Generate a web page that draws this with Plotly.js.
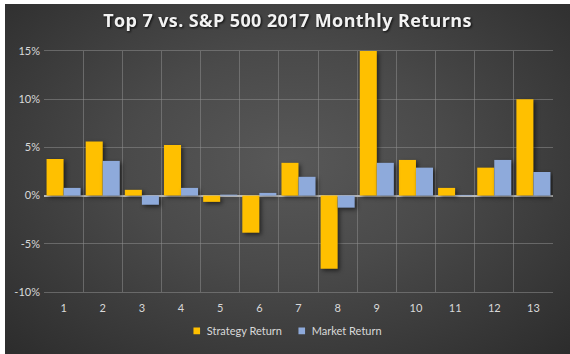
<!DOCTYPE html>
<html>
<head>
<meta charset="utf-8">
<script src="https://cdn.plot.ly/plotly-3.0.1.min.js"></script>
<style>
  html, body { margin: 0; padding: 0; background: #ffffff; width: 570px; height: 354px; overflow: hidden; }
  #frame {
    position: absolute; left: 5px; top: 4px; width: 565px; height: 350px;
    background: radial-gradient(ellipse at 50% 45%, #585858 0%, #4a4a4a 40%, #2c2c2c 100%);
  }
  #chart { position: absolute; left: 0; top: 0; width: 565px; height: 350px; }
  #chart .barlayer .point path { filter: drop-shadow(2px 2px 2px rgba(0,0,0,0.55)); }
  #chart .gtitle { filter: drop-shadow(1px 1px 1px rgba(0,0,0,0.8)); letter-spacing: 0.4px; }
  #chart .legend .legendpoints path { transform: translate(20px, 0px) scale(0.55); }
  #chart .legend .legendtext { transform: translateX(-10px); }
</style>
</head>
<body>
<div id="frame"><div id="chart"></div></div>
<script>
const months = ["1","2","3","4","5","6","7","8","9","10","11","12","13"];
const strategyReturn = [3.8, 5.6, 0.6, 5.25, -0.65, -3.85, 3.4, -7.6, 15.0, 3.7, 0.8, 2.9, 10.0];
const marketReturn = [0.8, 3.6, -0.95, 0.8, 0.1, 0.28, 1.95, -1.25, 3.4, 2.9, 0.07, 3.7, 2.45];
const yTickVals = [-10, -5, 0, 5, 10, 15];
const yTickText = ["-10%", "-5%", "0%", "5%", "10%", "15%"];

const font = "Lato, 'Open Sans', sans-serif";

const traces = [
  { type: "bar", name: "Strategy Return", x: months, y: strategyReturn,
    marker: { color: "#ffc000" }, hoverinfo: "none" },
  { type: "bar", name: "Market Return", x: months, y: marketReturn,
    marker: { color: "#8eaadb" }, hoverinfo: "none" }
];

const layout = {
  width: 565, height: 350,
  paper_bgcolor: "rgba(0,0,0,0)",
  plot_bgcolor: "rgba(0,0,0,0)",
  margin: { l: 39, r: 17, t: 47, b: 62, autoexpand: false },
  bargap: 0.13, bargroupgap: 0,
  barmode: "group",
  title: { text: "Top 7 vs. S&amp;P 500 2017 Monthly Returns",
    font: { family: "'Open Sans', Lato, sans-serif", size: 18, color: "#f2f2f2", weight: 700 },
    x: 0.5, xanchor: "center", yref: "container", y: 0.952, yanchor: "middle" },
  xaxis: {
    type: "category", tickson: "boundaries", showgrid: true,
    gridcolor: "rgba(140,140,140,0.55)", gridwidth: 1,
    showline: true, linecolor: "rgba(140,140,140,0.55)", mirror: true,
    ticks: "", ticklen: 0, ticklabelstandoff: 6,
    tickfont: { family: font, size: 11, color: "#d9d9d9" },
    fixedrange: true
  },
  yaxis: {
    range: [-10, 15], tickvals: yTickVals, ticktext: yTickText,
    showgrid: true, gridcolor: "rgba(140,140,140,0.55)", gridwidth: 1,
    zeroline: true, zerolinecolor: "#bfbfbf", zerolinewidth: 2,
    ticks: "", ticklabelstandoff: 3,
    tickfont: { family: font, size: 11, color: "#d9d9d9" },
    fixedrange: true
  },
  showlegend: true,
  legend: { orientation: "h", xref: "container", x: 0.304, xanchor: "left",
    yref: "container", y: 0.066, yanchor: "middle",
    font: { family: font, size: 11, color: "#d9d9d9" },
    bgcolor: "rgba(0,0,0,0)", itemwidth: 30, entrywidth: 60, entrywidthmode: "pixels",
    traceorder: "normal" }
};

Plotly.newPlot("chart", traces, layout, { displayModeBar: false, staticPlot: true });
</script>
</body>
</html>
